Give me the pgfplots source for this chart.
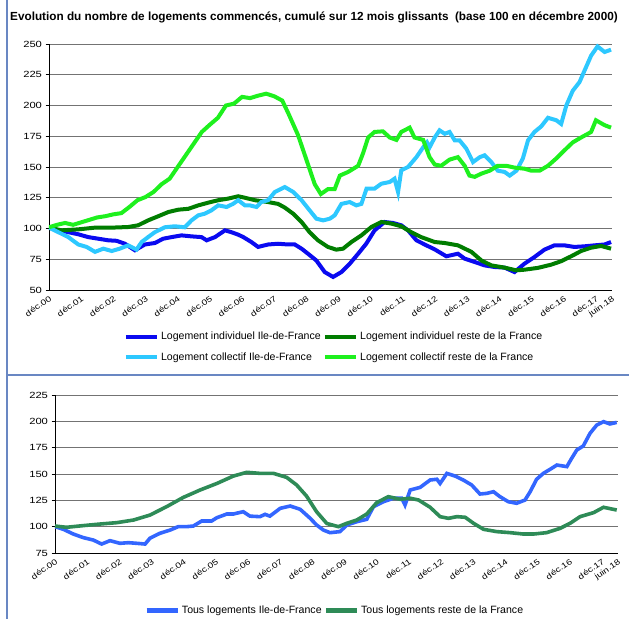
\documentclass[border=0pt]{standalone}
\usepackage{fontspec}
\setmainfont{Liberation Sans}
\newfontfamily\tickfont{Liberation Sans}[FakeStretch=1.25]
\usepackage{pgfplots}
\pgfplotsset{compat=1.18}
\definecolor{framecol}{RGB}{105,135,195}
\definecolor{indidf}{RGB}{10,10,240}
\definecolor{indrf}{RGB}{0,125,0}
\definecolor{colidf}{RGB}{45,200,255}
\definecolor{colrf}{RGB}{30,240,30}
\definecolor{tousidf}{RGB}{51,102,255}
\definecolor{tousrf}{RGB}{46,139,87}
\pgfplotsset{
  common/.style={
    scale only axis,
    xmin=0, xmax=17.5,
    axis x line*=bottom, axis y line*=left,
    ymajorgrids,
    grid style={line width=0.9bp, black!55},
    axis line style={line width=0.9bp, black},
    xtick={0,1,...,17,17.5},
    xticklabels={d\'ec.00,d\'ec.01,d\'ec.02,d\'ec.03,d\'ec.04,d\'ec.05,d\'ec.06,d\'ec.07,d\'ec.08,d\'ec.09,d\'ec.10,d\'ec.11,d\'ec.12,d\'ec.13,d\'ec.14,d\'ec.15,d\'ec.16,d\'ec.17,juin.18},
    x tick label style={rotate=35, anchor=north east, inner sep=1bp, font=\tickfont\fontsize{8}{9}\selectfont},
    y tick label style={font=\tickfont\fontsize{9}{10}\selectfont},
    /pgf/number format/assume math mode=true,
    tick align=outside,
    major tick length=3.5bp,
    x tick style={draw=none},
    y tick style={line width=0.8bp, black},
    legend image code/.code={\draw[#1, line width=4.5bp] (0bp,0bp) -- (31bp,0bp);},
  }
}
\begin{document}
\begin{tikzpicture}
\useasboundingbox (0bp,0bp) rectangle (629bp,619bp);
\draw[framecol, line width=1.2bp] (7bp,0bp) -- (7bp,619bp);
\draw[framecol, line width=1.6bp] (7bp,244bp) -- (629bp,244bp);
\node[anchor=base west, inner sep=0pt, font=\bfseries\fontsize{11.8}{13}\selectfont] at (10bp,598bp) {Evolution du nombre de logements commencés, cumulé sur 12 mois glissants\ \ (base 100 en décembre 2000)};

\begin{axis}[common,
  at={(49bp,329bp)}, anchor=south west,
  width=563bp, height=246bp,
  ymin=50, ymax=250, ytick={50,75,...,250},
  legend columns=2,
  legend cell align=left,
  legend style={at={(0.506,-0.155)}, anchor=north, draw=none, fill=none,
    font=\fontsize{10.6}{12}\selectfont, row sep=7bp,
    /tikz/every even column/.append style={column sep=0bp}},
]
\addplot[indidf, line width=4bp] coordinates {(0,100.7) (0.29,98.5) (0.6,97) (0.91,95.3) (1.22,93) (1.53,91.7) (1.84,90.4) (2.1,90) (2.36,87.6) (2.67,82.3) (2.98,87) (3.29,88.2) (3.55,91.7) (3.81,93) (4.12,94.4) (4.43,93.6) (4.74,93) (4.9,90.4) (5.16,93) (5.47,98.5) (5.67,97) (5.88,95) (6.04,93) (6.29,89) (6.5,85) (6.81,87) (7.12,87.6) (7.43,87) (7.64,87) (7.85,83.6) (8.05,79.5) (8.31,74) (8.57,64.6) (8.83,60.6) (9.09,64.6) (9.35,71.4) (9.61,79.5) (9.86,87.6) (10.12,98.5) (10.43,105.3) (10.69,104.5) (10.95,102.6) (11.16,98.5) (11.42,90.4) (11.73,86.3) (11.99,83) (12.35,77.4) (12.71,79.5) (12.92,75.5) (13.23,72.8) (13.54,70) (13.85,68.7) (14.16,68.2) (14.47,64.6) (14.78,71.4) (15.09,76.8) (15.4,82.8) (15.71,86.3) (16.02,86.3) (16.33,85) (16.64,85.5) (16.96,86.3) (17.27,87) (17.47,89)};
\addlegendentry{Logement individuel Ile-de-France}
\addplot[indrf, line width=4bp] coordinates {(0,100.7) (0.39,98.5) (0.91,99.3) (1.43,100.7) (1.95,100.7) (2.46,101.2) (2.77,102.6) (3.08,106.6) (3.4,110) (3.71,113.4) (4.02,115.3) (4.33,116) (4.64,118.8) (4.95,121) (5.26,123) (5.57,124.3) (5.88,126.2) (6.09,125) (6.4,123) (6.81,121.5) (7.12,120) (7.33,117) (7.59,112) (7.85,105.3) (8.1,97) (8.36,90.4) (8.67,85) (8.93,82.8) (9.14,83.6) (9.4,89) (9.71,94.4) (10.02,101.2) (10.33,105.3) (10.64,104) (10.95,101.8) (11.26,97) (11.57,93) (11.99,89) (12.3,88.2) (12.71,86.3) (13.13,81) (13.44,74) (13.75,70) (14.16,68.2) (14.52,66) (14.78,66.5) (15.2,68) (15.61,70.6) (15.92,73.4) (16.23,77.4) (16.54,81.7) (16.85,84.4) (17.16,85.8) (17.47,83.6)};
\addlegendentry{Logement individuel reste de la France}
\addplot[colidf, line width=4bp] coordinates {(0,100.7) (0.29,97) (0.6,93) (0.91,87) (1.17,85) (1.43,81) (1.69,83.6) (1.95,81.7) (2.2,83.6) (2.46,86.3) (2.72,82.8) (2.88,89) (3.08,93) (3.29,97) (3.6,101) (3.91,101.8) (4.22,101) (4.43,106.6) (4.64,110.7) (4.84,112) (5.05,114.8) (5.26,118.8) (5.52,117.5) (5.72,120) (5.88,123) (6.09,118.8) (6.24,118.8) (6.45,117.5) (6.6,121.5) (6.81,123) (7.02,129.7) (7.33,133.7) (7.59,129.7) (7.85,123) (8.1,114.8) (8.31,108) (8.52,106.6) (8.73,108) (8.88,110.7) (9.09,120) (9.35,121.5) (9.55,118.8) (9.71,120) (9.87,132.4) (10.12,132.4) (10.33,136.4) (10.59,137.8) (10.74,140.5) (10.85,129.7) (10.95,147.3) (11.16,150) (11.42,158) (11.63,166) (11.75,170) (11.83,166) (11.99,174) (12.14,179.8) (12.3,177) (12.45,178.5) (12.61,171.7) (12.76,171.7) (12.97,165) (13.18,154) (13.39,158) (13.54,159.5) (13.75,154) (13.95,147) (14.16,146) (14.32,143) (14.53,147) (14.73,157) (14.89,171.7) (15.09,178.5) (15.3,183) (15.51,190) (15.77,188) (15.92,185) (16.08,200) (16.28,212) (16.49,219) (16.64,228) (16.85,240.5) (17.05,248) (17.27,243.5) (17.47,245.4)};
\addlegendentry{Logement collectif Ile-de-France}
\addplot[colrf, line width=4bp] coordinates {(0,101) (0.25,103) (0.5,104.5) (0.75,103) (1,105) (1.25,107) (1.5,109) (1.75,110) (2,111.5) (2.25,112.5) (2.5,117.5) (2.75,123) (3,125.6) (3.25,129.7) (3.5,136) (3.75,140.5) (4,150) (4.25,159.5) (4.5,169) (4.75,178.5) (5,184.4) (5.25,190) (5.5,200) (5.75,201.5) (6,207) (6.25,206) (6.5,208) (6.75,209.6) (7,207.5) (7.25,204) (7.45,193) (7.74,176) (8.0,156) (8.26,136) (8.45,128) (8.67,132) (8.88,132) (9.04,143) (9.3,146) (9.61,151) (9.76,161) (9.92,174) (10.12,178.5) (10.38,179) (10.59,174) (10.8,172) (10.95,178.5) (11.21,182) (11.36,174) (11.63,172) (11.83,158) (11.99,152) (12.19,151) (12.45,156) (12.71,158) (12.92,151) (13.07,143) (13.23,142) (13.44,144.6) (13.7,147) (13.95,151) (14.21,151) (14.47,149.5) (14.78,148.6) (14.99,147) (15.25,147) (15.51,151) (15.77,157) (16.02,163.5) (16.28,170) (16.54,174) (16.75,177) (16.85,178.5) (17.0,188) (17.27,184) (17.47,182)};
\addlegendentry{Logement collectif reste de la France}
\end{axis}

\begin{axis}[common,
  at={(55bp,66bp)}, anchor=south west,
  width=563bp, height=158bp,
  ymin=75, ymax=225, ytick={75,100,...,225},
  legend columns=2,
  legend style={at={(0.497,-0.31)}, anchor=north, draw=none, fill=none,
    font=\fontsize{10.6}{12}\selectfont,
    /tikz/every even column/.append style={column sep=0bp}},
]
\addplot[tousidf, line width=3.6bp] coordinates {(0,100) (0.26,97.5) (0.57,93) (0.88,89.6) (1.19,87.3) (1.45,83.5) (1.71,86.7) (2.02,84.2) (2.28,84.8) (2.54,84.2) (2.8,83.5) (2.95,89) (3.26,93.7) (3.58,96.8) (3.83,100) (4.09,100) (4.3,100.6) (4.56,105.4) (4.87,105.4) (5.03,108.5) (5.34,112) (5.54,112) (5.85,114.2) (6.06,110) (6.37,109.5) (6.53,111.7) (6.68,110) (7.0,117.4) (7.31,119.6) (7.62,116.5) (7.93,108) (8.13,101.6) (8.34,96.8) (8.55,94.3) (8.86,95.3) (9.07,101.6) (9.38,104.7) (9.69,107) (9.9,119) (10.21,123.7) (10.52,127) (10.78,127) (10.88,120.6) (11.04,134.8) (11.35,137.3) (11.66,144.3) (11.87,145) (11.97,141) (12.18,150.6) (12.44,148) (12.69,144.3) (12.95,139.6) (13.21,131) (13.42,131.6) (13.63,133.2) (13.83,128.5) (14.09,123.7) (14.35,122.2) (14.61,125.3) (14.77,133.2) (14.97,145) (15.18,150.6) (15.44,155.4) (15.6,158.5) (15.91,157) (16.06,164.9) (16.22,172.8) (16.42,176.6) (16.63,188.6) (16.84,196.5) (17.05,199.7) (17.25,197.5) (17.46,199)};
\addlegendentry{Tous logements Ile-de-France}
\addplot[tousrf, line width=3.6bp] coordinates {(0,100.6) (0.36,99.4) (0.88,101) (1.4,102.5) (1.92,103.8) (2.44,106.3) (2.95,111) (3.47,119) (3.99,127.8) (4.51,134.8) (5.03,141) (5.54,148) (5.96,151.6) (6.37,150.6) (6.79,150.6) (7.2,146.8) (7.51,139.6) (7.82,129) (8.13,114.2) (8.45,103) (8.81,100) (9.07,103.2) (9.38,106.3) (9.69,112) (10.0,122.8) (10.36,128.5) (10.73,126) (11.04,127) (11.3,125.3) (11.66,118.4) (11.97,109.5) (12.23,107.9) (12.49,109.5) (12.75,108.9) (13.01,103.2) (13.32,97.5) (13.73,95.3) (14.15,94.3) (14.56,93) (14.87,93) (15.28,94.3) (15.7,98.4) (16.01,103.2) (16.32,109.5) (16.74,113.3) (17.05,118.4) (17.46,115.8)};
\addlegendentry{Tous logements reste de la France}
\end{axis}
\end{tikzpicture}
\end{document}
